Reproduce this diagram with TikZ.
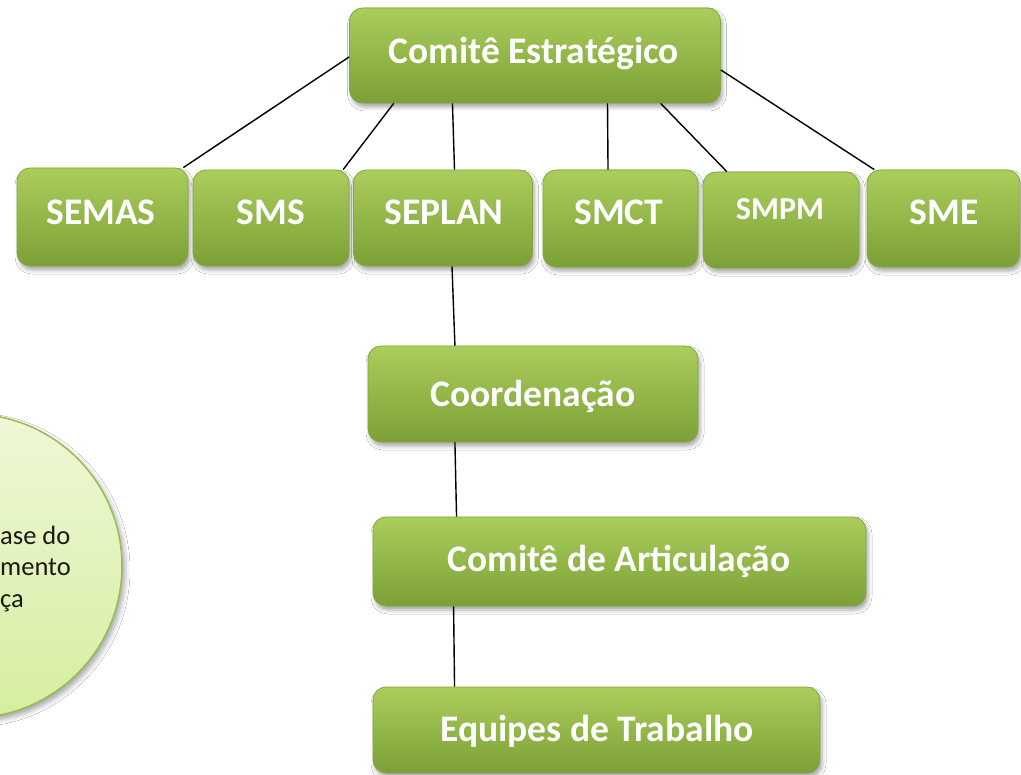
\documentclass[tikz,border=0pt]{standalone}
\usepackage{fontspec}
\setmainfont{Carlito}
\usetikzlibrary{calc,shadows.blur}
\definecolor{gtop}{RGB}{170,205,92}
\definecolor{gbot}{RGB}{124,160,54}
\definecolor{gedge}{RGB}{132,168,62}
\definecolor{ctop}{RGB}{238,248,214}
\definecolor{cbot}{RGB}{214,238,160}
\definecolor{cedge}{RGB}{150,190,80}
\tikzset{
  gbox/.style={rectangle, rounded corners=13pt, draw=gedge, line width=0.8pt,
    top color=gtop, bottom color=gbot, text=white, font=\bfseries,
    inner sep=0pt, blur shadow={shadow xshift=2pt, shadow yshift=-4pt, shadow blur radius=4pt, shadow opacity=35}},
  btext/.style={anchor=base, inner sep=0pt, text=white, font=\bfseries\fontsize{37.5}{42}\selectfont},
  stext/.style={anchor=base, inner sep=0pt, text=white, font=\bfseries\fontsize{32}{36}\selectfont},
  link/.style={draw=black, line width=1.4pt},
  ctext/.style={anchor=base west, inner sep=0pt, text=black!90, font=\fontsize{26.5}{30}\selectfont}
}
\begin{document}
\begin{tikzpicture}[x=1pt,y=-1pt]
\clip (0,0) rectangle (1021,775);
\fill[white] (0,0) rectangle (1021,775);
% circle
\node[circle, minimum size=304pt, draw=cedge, line width=1.5pt, top color=ctop, bottom color=cbot,
  blur shadow={shadow xshift=3pt, shadow yshift=-4pt, shadow blur radius=5pt, shadow opacity=35}] (circ) at (-30,566) {};
\node[ctext] (c1) at (0,544) {ase do};
\node[ctext] (c2) at (0,576) {mento};
\node[ctext] (c3) at (0,607) {ça};
% boxes
\node[gbox, minimum width=371pt, minimum height=95pt] (ce) at (535,55.5) {};
\node[btext] (cet) at (534,64) {Comitê Estratégico};
\node[gbox, minimum width=171pt, minimum height=98pt] (semas) at (102.5,217) {};
\node[gbox, minimum width=156pt, minimum height=96pt] (sms) at (271,218) {};
\node[gbox, minimum width=179pt, minimum height=96pt] (seplan) at (443,218) {};
\node[gbox, minimum width=155pt, minimum height=97pt] (smct) at (620.5,218.5) {};
\node[gbox, minimum width=156pt, minimum height=96pt] (smpm) at (781,220) {};
\node[gbox, minimum width=153pt, minimum height=97pt] (sme) at (943.5,218.5) {};
\node[btext] (semast) at (101,225) {SEMAS};
\node[btext] (smst) at (271,225) {SMS};
\node[btext] (seplant) at (444,225) {SEPLAN};
\node[btext] (smctt) at (619,225) {SMCT};
\node[stext] (smpmt) at (780,219.5) {SMPM};
\node[btext] (smet) at (944,225) {SME};
\node[gbox, minimum width=330pt, minimum height=96pt] (coord) at (533,394) {};
\node[btext] (coordt) at (533,406.5) {Coordenação};
\node[gbox, minimum width=493pt, minimum height=89pt] (art) at (619.5,561.5) {};
\node[btext] (artt) at (619,571.5) {Comitê de Articulação};
\node[gbox, minimum width=447pt, minimum height=86pt] (eq) at (596.5,730) {};
\node[btext] (eqt) at (597,741.5) {Equipes de Trabalho};
% connectors
\draw[link] ([yshift=-1.5pt]ce.west) -- ($(semas.north west)!0.97!(semas.north east)$);
\draw[link] ($(ce.south west)!0.12!(ce.south east)$) -- ($(sms.north west)!0.96!(sms.north east)$);
\draw[link] ($(ce.south west)!0.278!(ce.south east)$) -- ($(seplan.north west)!0.564!(seplan.north east)$);
\draw[link] ($(ce.south west)!0.695!(ce.south east)$) -- ($(smct.north west)!0.42!(smct.north east)$);
\draw[link] ($(ce.south west)!0.838!(ce.south east)$) -- ($(smpm.north west)!0.154!(smpm.north east)$);
\draw[link] ([yshift=-14.5pt]ce.east) -- ($(sme.north west)!0.05!(sme.north east)$);
\draw[link] ($(seplan.south west)!0.55!(seplan.south east)$) -- ($(coord.north west)!0.264!(coord.north east)$);
\draw[link] ($(coord.south west)!0.264!(coord.south east)$) -- ($(art.north west)!0.17!(art.north east)$);
\draw[link] ($(art.south west)!0.164!(art.south east)$) -- ($(eq.north west)!0.183!(eq.north east)$);
\end{tikzpicture}
\end{document}
